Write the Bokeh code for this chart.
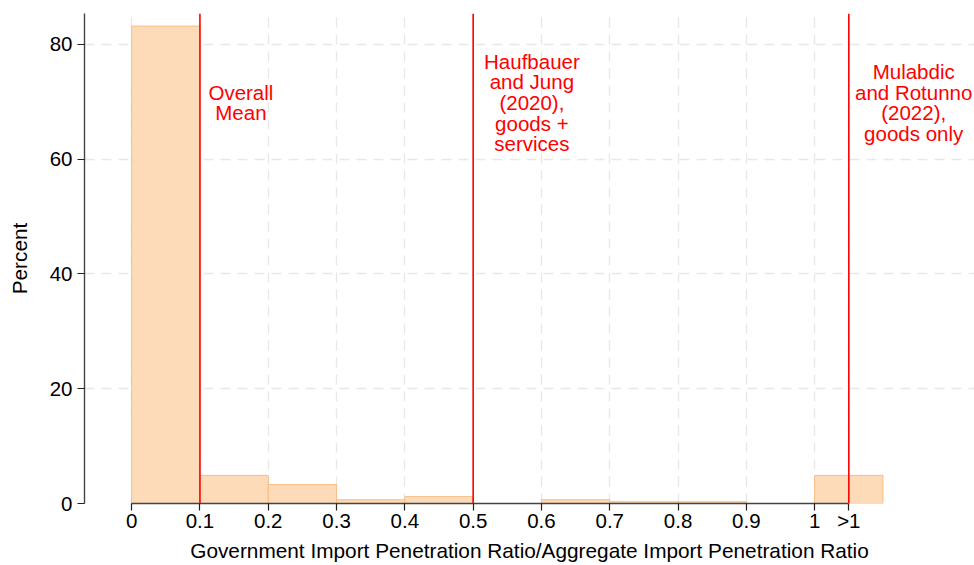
from bokeh.plotting import figure
from bokeh.models import Range1d, FixedTicker, Span, ColumnDataSource
from bokeh.core.properties import value
from bokeh.embed import file_html
from bokeh.resources import INLINE

# ---- data ----
bin_left = [0.0, 0.1, 0.2, 0.3, 0.4, 0.5, 0.6, 0.7, 0.8, 0.9, 1.0]
bin_width = 0.1
percent = [83.2, 4.9, 3.3, 0.65, 1.2, 0.0, 0.65, 0.3, 0.3, 0.0, 4.9]

x_ticks = [0, 0.1, 0.2, 0.3, 0.4, 0.5, 0.6, 0.7, 0.8, 0.9, 1, 1.05]
x_tick_labels = ["0", "0.1", "0.2", "0.3", "0.4", "0.5", "0.6", "0.7", "0.8", "0.9", "1", ">1"]
y_ticks = [0, 20, 40, 60, 80]

ref_lines = [0.1, 0.5, 1.05]
ann_x = [0.16, 0.586, 1.145]
ann_y = [69.9, 69.9, 69.9]
ann_text = [
    "Overall\nMean",
    "Haufbauer\nand Jung\n(2020),\ngoods +\nservices",
    "Mulabdic\nand Rotunno\n(2022),\ngoods only",
]

FONT = "Liberation Sans"
FS = "20.5px"
FS_TITLE = "20.8px"

p = figure(width=974, height=565, output_backend="svg", toolbar_location=None,
           x_range=Range1d(-0.069, 1.234), y_range=Range1d(0, 85.4),
           min_border_left=84, min_border_right=0, min_border_top=13, min_border_bottom=62)
p.outline_line_color = None
p.background_fill_color = "white"
p.border_fill_color = "white"

src = ColumnDataSource(dict(
    left=bin_left,
    right=[b + bin_width for b in bin_left],
    top=percent,
    bottom=[0] * len(percent),
))
p.quad(left="left", right="right", top="top", bottom="bottom", source=src,
       fill_color="#fddbb9", line_color="#f8bd85", line_width=1)

for xv in ref_lines:
    p.add_layout(Span(location=xv, dimension="height", line_color="#ff0000", line_width=1.6))

p.text(x=ann_x, y=ann_y, text=ann_text, text_color="#ff0000",
       text_font=value(FONT), text_font_size=FS, text_align="center",
       text_baseline="middle", text_line_height=0.9)

# axes
xa = p.xaxis[0]
xa.ticker = FixedTicker(ticks=x_ticks)
xa.major_label_overrides = {t: l for t, l in zip(x_ticks, x_tick_labels)}
xa.bounds = (0, 1.05)
xa.axis_label = "Government Import Penetration Ratio/Aggregate Import Penetration Ratio"
ya = p.yaxis[0]
ya.ticker = FixedTicker(ticks=y_ticks)
ya.axis_label = "Percent"

for ax in (xa, ya):
    ax.axis_line_color = "#444444"
    ax.axis_line_width = 1.4
    ax.major_tick_line_color = "#222222"
    ax.major_tick_line_width = 1.2
    ax.major_tick_out = 7
    ax.major_tick_in = 0
    ax.minor_tick_line_color = None
    ax.major_label_text_font = FONT
    ax.major_label_text_font_size = FS
    ax.major_label_text_color = "black"
    ax.axis_label_text_font = FONT
    ax.axis_label_text_font_size = FS_TITLE
    ax.axis_label_text_font_style = "normal"
    ax.axis_label_text_color = "black"
ya.major_label_orientation = "horizontal"
xa.major_label_standoff = -2
xa.axis_label_standoff = 4
ya.major_label_standoff = 5
ya.axis_label_standoff = 16

for g in (p.xgrid[0], p.ygrid[0]):
    g.grid_line_color = "#e8e8e8"
    g.grid_line_dash = "10 7"
    g.grid_line_width = 1.4

open("out.html", "w").write(file_html(p, INLINE))
